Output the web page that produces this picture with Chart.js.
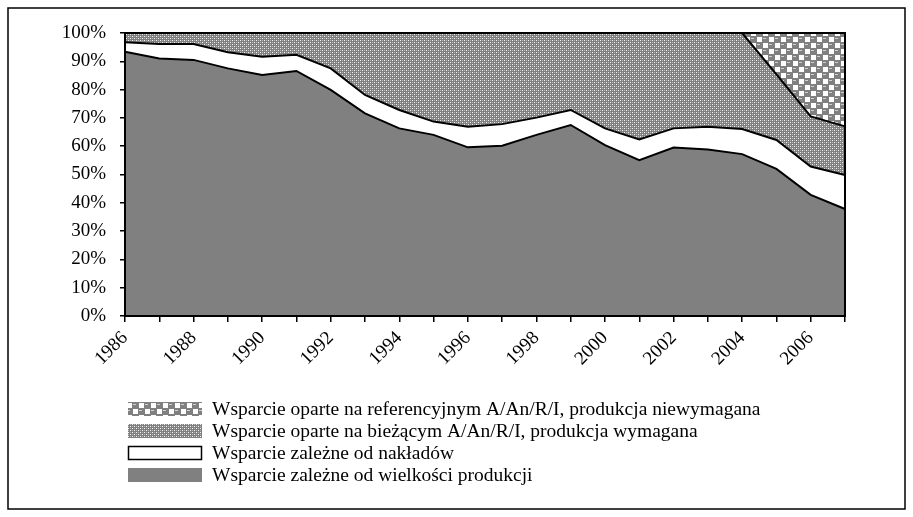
<!DOCTYPE html>
<html>
<head>
<meta charset="utf-8">
<script src="https://cdn.jsdelivr.net/npm/chart.js@4.4.1/dist/chart.umd.min.js"></script>
<style>
  body { margin: 0; background: #fff; }
</style>
</head>
<body>
<canvas id="supportChart" width="913" height="517"></canvas>
<script>
var years = ['1986', '1987', '1988', '1989', '1990', '1991', '1992', '1993', '1994', '1995', '1996',
    '1997', '1998', '1999', '2000', '2001', '2002', '2003', '2004', '2005', '2006', '2007'];

// shares in %, bottom of the stack first
var outputBased = [93.4, 91.0, 90.5, 87.5, 85.2, 86.6, 79.9, 71.6, 66.3, 64.0, 59.6,
    60.2, 64.0, 67.5, 60.4, 55.1, 59.5, 58.8, 57.2, 52.0, 42.8, 37.8];
var inputBased = [3.3, 5.1, 5.6, 5.7, 6.4, 5.7, 7.6, 6.5, 6.5, 4.7, 7.3,
    7.6, 6.1, 5.3, 5.9, 7.3, 6.8, 8.1, 8.9, 10.2, 10.0, 12.0];
var currentAreaBased = [3.3, 3.9, 3.9, 6.8, 8.4, 7.7, 12.5, 21.9, 27.2, 31.3, 33.1,
    32.2, 29.9, 27.2, 33.7, 37.6, 33.7, 33.1, 33.9, 23.2, 17.7, 17.2];
var historicalAreaBased = [0, 0, 0, 0, 0, 0, 0, 0, 0, 0, 0,
    0, 0, 0, 0, 0, 0, 0, 0, 14.6, 29.5, 33.0];

var seriesNames = [
    'Wsparcie zależne od wielkości produkcji',
    'Wsparcie zależne od nakładów',
    'Wsparcie oparte na bieżącym A/An/R/I, produkcja wymagana',
    'Wsparcie oparte na referencyjnym A/An/R/I, produkcja niewymagana'
];

function makeFinePattern(ctx) {
    var c = document.createElement('canvas');
    c.width = 4;
    c.height = 4;
    var p = c.getContext('2d');
    p.fillStyle = '#808080';
    p.fillRect(0, 0, 4, 4);
    p.fillStyle = '#f4f4f4';
    p.fillRect(0, 0, 1, 1);
    p.fillRect(2, 2, 1, 1);
    p.fillStyle = '#b4b4b4';
    p.fillRect(2, 0, 1, 1);
    p.fillRect(0, 2, 1, 1);
    return ctx.createPattern(c, 'repeat');
}

function makeCoarsePattern(ctx) {
    var c = document.createElement('canvas');
    c.width = 12;
    c.height = 12;
    var p = c.getContext('2d');
    p.fillStyle = '#808080';
    p.fillRect(0, 0, 12, 12);
    p.fillStyle = '#ffffff';
    p.fillRect(1, 1, 5, 5);
    p.fillRect(7, 7, 5, 5);
    p.fillStyle = '#cfcfcf';
    p.fillRect(7, 2, 3, 1);
    p.fillRect(1, 8, 3, 1);
    return ctx.createPattern(c, 'repeat');
}

var frames = {
    id: 'frames',
    afterDatasetsDraw: function (chart) {
        var ctx = chart.ctx;
        var a = chart.chartArea;
        ctx.save();
        ctx.strokeStyle = '#000';
        ctx.lineWidth = 2;
        ctx.strokeRect(a.left, a.top, a.right - a.left, a.bottom - a.top);
        ctx.lineWidth = 1.5;
        ctx.strokeRect(8, 8, 897, 501);
        ctx.restore();
    }
};

var blockLegend = {
    id: 'blockLegend',
    afterDraw: function (chart) {
        var ctx = chart.ctx;
        var sets = chart.data.datasets;
        ctx.save();
        ctx.font = '19.5px "Liberation Serif"';
        ctx.textBaseline = 'middle';
        var row = 0;
        for (var i = sets.length - 1; i >= 0; i--) {
            var y = 409 + row * 22;
            ctx.fillStyle = sets[i].backgroundColor;
            ctx.fillRect(128, y - 7, 74, 14);
            if (sets[i].backgroundColor === '#ffffff') {
                ctx.strokeStyle = '#000';
                ctx.lineWidth = 1.5;
                ctx.strokeRect(128.5, y - 6.5, 73, 13);
            }
            ctx.fillStyle = '#000';
            ctx.fillText(sets[i].label, 212, y + 1);
            row++;
        }
        ctx.restore();
    }
};

document.addEventListener('DOMContentLoaded', function () {

    var canvas = document.getElementById('supportChart');
    var ctx = canvas.getContext('2d');

    var seriesValues = [outputBased, inputBased, currentAreaBased, historicalAreaBased];
    var fills = ['#808080', '#ffffff', makeFinePattern(ctx), makeCoarsePattern(ctx)];

    var datasets = seriesValues.map(function (values, i) {
        return {
            label: seriesNames[i],
            data: values,
            backgroundColor: fills[i],
            borderColor: '#000',
            borderWidth: i === 3 ? 0 : 2,
            fill: i === 0 ? 'origin' : '-1',
            pointRadius: 0,
            tension: 0
        };
    });

    new Chart(ctx, {
        type: 'line',
        data: {
            labels: years,
            datasets: datasets
        },
        options: {
            responsive: false,
            devicePixelRatio: 1,
            animation: false,
            layout: {
                padding: { left: 20, right: 68, top: 33, bottom: 141 }
            },
            plugins: {
                legend: { display: false },
                tooltip: { enabled: false }
            },
            scales: {
                x: {
                    offset: false,
                    afterFit: function (scale) { scale.height = 60; },
                    grid: {
                        drawOnChartArea: false,
                        drawTicks: true,
                        tickLength: 6,
                        color: '#000',
                        lineWidth: 1.5,
                        offset: false
                    },
                    border: { color: '#000', width: 2 },
                    ticks: {
                        autoSkip: false,
                        maxRotation: 45,
                        minRotation: 45,
                        color: '#000',
                        padding: 5,
                        font: { family: '"Liberation Serif"', size: 19 },
                        callback: function (val, index) {
                            return index % 2 === 0 ? years[index] : '';
                        }
                    }
                },
                y: {
                    stacked: true,
                    min: 0,
                    max: 100,
                    afterFit: function (scale) { scale.width = 105; },
                    grid: {
                        drawOnChartArea: false,
                        drawTicks: true,
                        tickLength: 5,
                        color: '#000',
                        lineWidth: 1.5
                    },
                    border: { color: '#000', width: 2 },
                    ticks: {
                        stepSize: 10,
                        color: '#000',
                        padding: 14,
                        font: { family: '"Liberation Serif"', size: 19 },
                        callback: function (v) { return v + '%'; }
                    }
                }
            }
        },
        plugins: [frames, blockLegend]
    });
});
</script>
</body>
</html>
